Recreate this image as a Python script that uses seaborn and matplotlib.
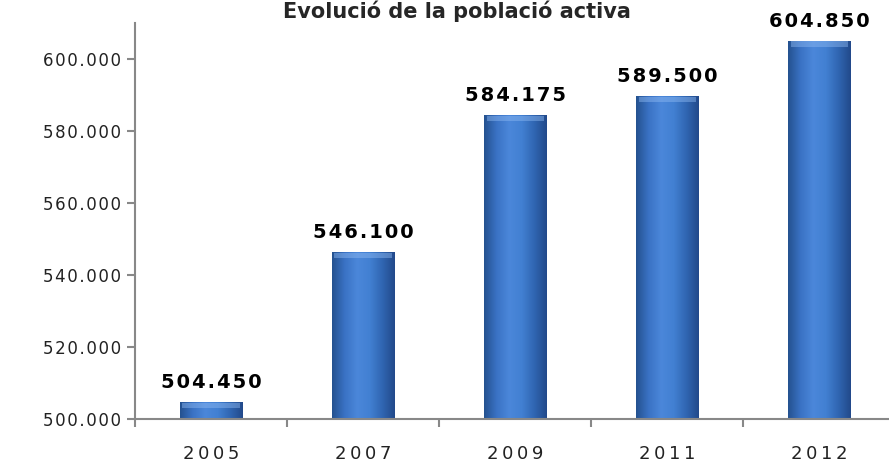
import numpy as np
import pandas as pd
import matplotlib.pyplot as plt
import seaborn as sns
from matplotlib.colors import LinearSegmentedColormap

# data
years = ['2005', '2007', '2009', '2011', '2012']
values = [504450, 546100, 584175, 589500, 604850]
yticks = [500000, 520000, 540000, 560000, 580000, 600000]

df = pd.DataFrame({'year': years, 'value': values})
ymin, ymax = 500000, 610000


def spaced(s, sep='\u200a'):
    # mimic the wide letter spacing of the original
    return sep.join(s)


def fmt(v):
    return f'{v:,.0f}'.replace(',', '.')


sns.set_theme(style='white')
plt.rcParams['font.family'] = ['DejaVu Sans']

fig = plt.figure(figsize=(8.89, 4.66), dpi=100)
ax = fig.add_axes([0.152, 0.101, 0.855, 0.85])

sns.barplot(data=df, x='year', y='value', color='#3b73c8', width=0.41,
            edgecolor='none', ax=ax)

ax.set_ylim(ymin, ymax)
ax.set_xlim(-0.5, 4.5)

# horizontal gradient on each bar (visible part only)
cmap = LinearSegmentedColormap.from_list(
    'bar', ['#24518f', '#3a72c4', '#4b87da', '#4280d2', '#3066b2', '#22498a'])
grad = np.linspace(0, 1, 256).reshape(1, -1)
for p in ax.patches:
    x0, w = p.get_x(), p.get_width()
    top = p.get_y() + p.get_height()
    ax.imshow(grad, cmap=cmap, aspect='auto', extent=[x0, x0 + w, ymin, top],
              zorder=p.get_zorder() + 0.1, interpolation='bilinear')
    # light bevel on top
    bev = 1500
    ax.fill_between([x0 + w * 0.04, x0 + w * 0.96], top - bev, top,
                    color='#8fbaf2', alpha=0.45, lw=0, zorder=p.get_zorder() + 0.2)
ax.set_xlim(-0.5, 4.5)
ax.set_ylim(ymin, ymax)

for i, v in enumerate(values):
    ax.text(i, v + 3000, spaced(fmt(v)), ha='center', va='bottom',
            fontsize=14, fontweight='bold', color='black')

ax.set_yticks(yticks)
ax.set_yticklabels([spaced(fmt(t)) for t in yticks], fontsize=12, color='#222222')
ax.set_xticks(range(len(years)))
ax.set_xticklabels([spaced(y, '\u2009') for y in years], fontsize=13, color='#222222')
ax.set_xticks(np.arange(-0.5, 5, 1), minor=True)
ax.tick_params(axis='x', which='major', length=0, pad=19, bottom=True)
ax.tick_params(axis='x', which='minor', length=6, width=1.5, color='#888888',
               direction='out', bottom=True)
ax.tick_params(axis='y', length=6, width=1.5, color='#888888', direction='out',
               pad=4, left=True)
ax.set_xlabel('')
ax.set_ylabel('')

for s in ['top', 'right']:
    ax.spines[s].set_visible(False)
for s in ['left', 'bottom']:
    ax.spines[s].set_color('#888888')
    ax.spines[s].set_linewidth(1.5)

fig.text(0.514, 0.962, 'Evolució de la població activa', ha='center', va='baseline',
         fontsize=15, fontweight='bold')

fig.savefig('out.png', dpi=100)
